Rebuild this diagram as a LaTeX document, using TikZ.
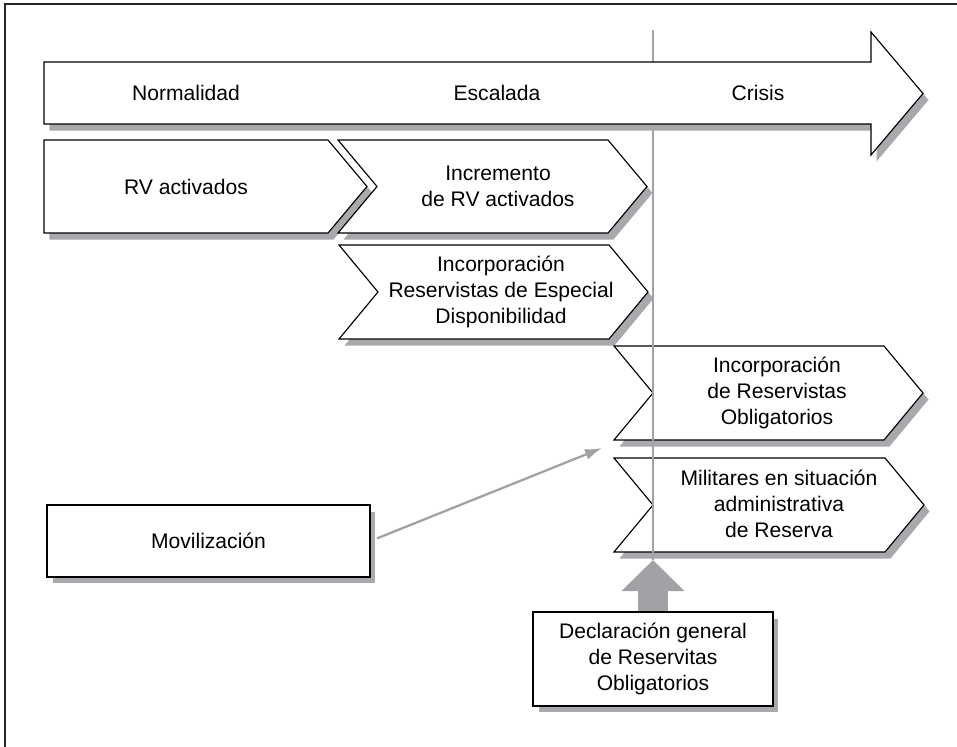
\documentclass[tikz,border=0pt]{standalone}
\usepackage{fontspec}
\setmainfont{Liberation Sans}
\usetikzlibrary{arrows.meta,shadows}
\definecolor{shadowgray}{RGB}{167,169,172}
\definecolor{linegray}{RGB}{160,162,165}

\begin{document}
\begin{tikzpicture}[x=0.02cm,y=-0.02cm]
\tikzstyle{chevron} = [draw=black, line width=0.65pt, fill=white, line join=miter,
drop shadow={shadow xshift=0.11cm, shadow yshift=-0.13cm, opacity=1, fill=shadowgray}]
\tikzstyle{phasetext} = [align=center, font=\fontsize{12}{14.8}\selectfont, inner sep=0pt]
\tikzstyle{block} = [rectangle, chevron, phasetext]
\tikzstyle{line} = [draw=linegray, line width=1.3pt]

\useasboundingbox (0,0) rectangle (957,747);
\draw[line width=1.2pt, draw=black!85] (5,4) rectangle (975,765);

% row 1
\path[chevron] (44,140) -- (328,140) -- (367,186.5) -- (328,233) -- (44,233) -- cycle;
\node[phasetext] (rv) at (186,186.5) {RV activados};
\path[chevron] (338,140) -- (608,140) -- (647,186.5) -- (608,233) -- (338,233) -- (377,186.5) -- cycle;
\node[phasetext] (incremento) at (498,186.5) {Incremento\\de RV activados};
% row 2
\path[chevron] (339,245) -- (609,245) -- (648,292) -- (609,339) -- (339,339) -- (378,292) -- cycle;
\node[phasetext] (especial) at (501,292) {Incorporación\\Reservistas de Especial\\Disponibilidad};
% row 3
\path[chevron] (614,346) -- (884,346) -- (923,393) -- (884,440) -- (614,440) -- (653,393) -- cycle;
\node[phasetext] (obligatorios) at (777,393) {Incorporación\\de Reservistas\\Obligatorios};
% row 4
\path[chevron] (614,458) -- (885,458) -- (924,505) -- (885,552) -- (614,552) -- (653,505) -- cycle;
\node[phasetext] (militares) at (779,504) {Militares en situación\\administrativa\\de Reserva};

\node[block, minimum width=6.46cm, minimum height=1.44cm] (movil) at (208.5,541) {Movilización};
\node[block, minimum width=4.8cm, minimum height=1.88cm] (decl) at (653,659) {Declaración general\\de Reservitas\\Obligatorios};

\coordinate (linetop) at (653,30);
\coordinate (lineend) at (653,560);
\coordinate (movtip) at (602,448);

\path[line] (linetop) -- (lineend);
\path[line, shorten <=0.14cm, -{Latex[length=0.34cm,width=0.22cm]}] (movil.east) -- (movtip);
\draw[linegray, line width=0.6cm, -{Triangle[width=1.22cm,length=0.62cm]}] (decl.north) -- (lineend);

% time line
\path[chevron] (44,62) -- (871,62) -- (871,32) -- (923,93.5) -- (871,155) -- (871,124) -- (44,124) -- cycle;
\node[phasetext] (normalidad) at (186,93) {Normalidad};
\node[phasetext] (escalada) at (497,93) {Escalada};
\node[phasetext] (crisis) at (758,93) {Crisis};
\end{tikzpicture}
\end{document}
